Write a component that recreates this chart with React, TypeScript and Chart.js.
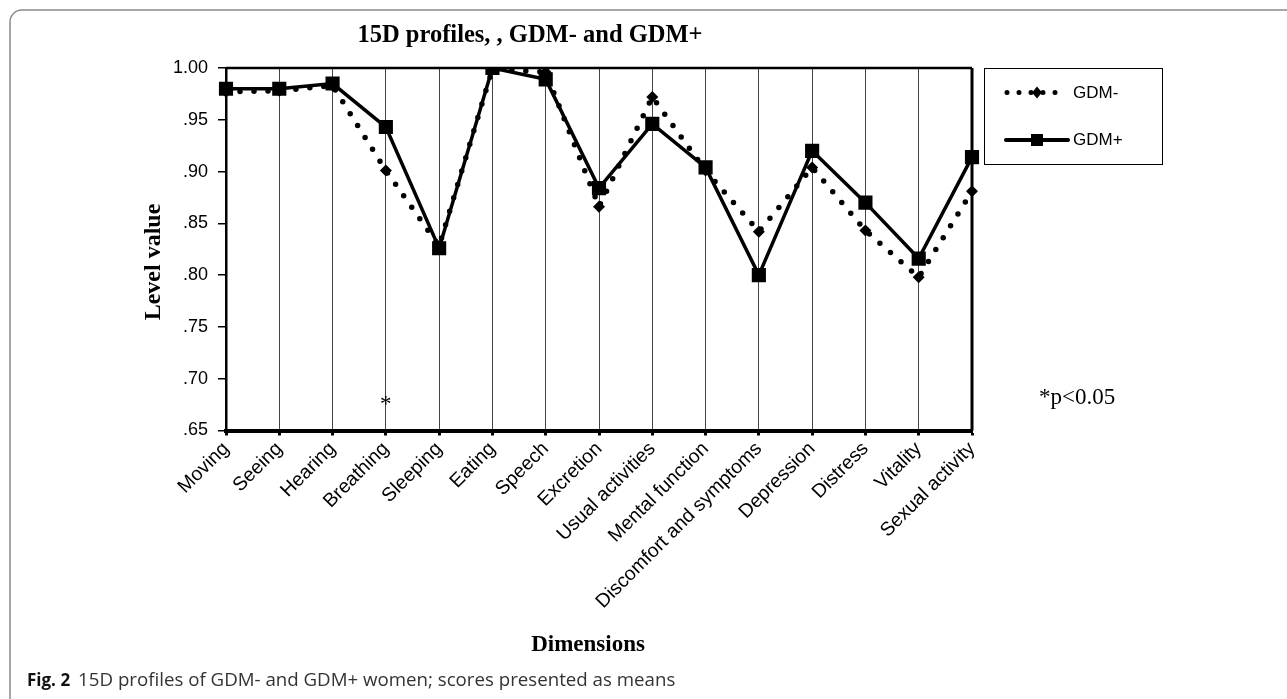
import React, { useEffect, useRef } from "react";
import { Chart, registerables } from "chart.js";

Chart.register(...registerables);

const categories = [
  "Moving", "Seeing", "Hearing", "Breathing", "Sleeping", "Eating", "Speech",
  "Excretion", "Usual activities", "Mental function", "Discomfort and symptoms",
  "Depression", "Distress", "Vitality", "Sexual activity",
];
const gdmMinus = [0.977, 0.978, 0.983, 0.901, 0.828, 0.999, 0.996, 0.866, 0.972, 0.901, 0.842, 0.904, 0.843, 0.798, 0.881];
const gdmPlus = [0.980, 0.980, 0.985, 0.943, 0.826, 1.000, 0.989, 0.884, 0.946, 0.904, 0.800, 0.920, 0.870, 0.816, 0.914];
const seriesNames = ["GDM-", "GDM+"];
const yMin = 0.65;
const yMax = 1.0;
const yStep = 0.05;
const titleText = "15D profiles, , GDM- and GDM+";
const yTitle = "Level value";
const xTitle = "Dimensions";
const sigIndex = 3;
const sigValue = 0.68;
const noteText = "*p<0.05";
const captionBold = "Fig. 2";
const captionText = "15D profiles of GDM- and GDM+ women; scores presented as means";

const W = 1287;
const H = 699;
const AREA_LEFT = 226;
const AREA_RIGHT = 972;
const AREA_TOP = 68;
const AREA_BOTTOM = 430.5;
const XAXIS_H = 200;

const decor = {
  id: "decor",
  beforeDraw(chart: any) {
    const ctx = chart.ctx;
    ctx.save();
    ctx.fillStyle = "#fff";
    ctx.fillRect(0, 0, W, H);
    ctx.restore();
  },
  afterDraw(chart: any) {
    const ctx = chart.ctx;
    const a = chart.chartArea;
    ctx.save();
    // plot frame top and right
    ctx.strokeStyle = "#000";
    ctx.lineWidth = 2.5;
    ctx.beginPath();
    ctx.moveTo(a.left, a.top);
    ctx.lineTo(a.right, a.top);
    ctx.stroke();
    ctx.lineWidth = 3;
    ctx.beginPath();
    ctx.moveTo(a.right, a.top);
    ctx.lineTo(a.right, a.bottom);
    ctx.stroke();

    // title
    ctx.fillStyle = "#000";
    ctx.font = "bold 24.5px 'Liberation Serif'";
    ctx.textAlign = "center";
    ctx.textBaseline = "middle";
    ctx.fillText(titleText, 530, 36);

    // y title
    ctx.save();
    ctx.translate(154, 262);
    ctx.rotate(-Math.PI / 2);
    ctx.font = "bold 24px 'Liberation Serif'";
    ctx.fillText(yTitle, 0, 0);
    ctx.restore();

    // x title
    ctx.font = "bold 23px 'Liberation Serif'";
    ctx.fillText(xTitle, 588, 645);

    // significance star
    const xs = chart.scales.x;
    const ys = chart.scales.y;
    ctx.font = "23px 'Liberation Serif'";
    ctx.fillText("*", xs.getPixelForValue(sigIndex), ys.getPixelForValue(sigValue) + 6);

    // note
    ctx.textAlign = "left";
    ctx.font = "23px 'Liberation Serif'";
    ctx.fillText(noteText, 1039, 398);

    // legend
    ctx.strokeStyle = "#000";
    ctx.lineWidth = 1;
    ctx.strokeRect(984.5, 68.5, 178, 96);
    ctx.font = "17px 'Liberation Sans'";
    ctx.fillStyle = "#000";
    ctx.fillText(seriesNames[0], 1073, 93);
    ctx.fillText(seriesNames[1], 1073, 140);
    // GDM- sample
    ctx.lineCap = "round";
    ctx.lineWidth = 5;
    ctx.setLineDash([0, 12]);
    ctx.beginPath();
    ctx.moveTo(1007, 92.5);
    ctx.lineTo(1057, 92.5);
    ctx.stroke();
    ctx.setLineDash([]);
    ctx.beginPath();
    ctx.moveTo(1037, 86.5);
    ctx.lineTo(1042, 92.5);
    ctx.lineTo(1037, 98.5);
    ctx.lineTo(1032, 92.5);
    ctx.closePath();
    ctx.fill();
    // GDM+ sample
    ctx.lineWidth = 4;
    ctx.beginPath();
    ctx.moveTo(1006, 140);
    ctx.lineTo(1068, 140);
    ctx.stroke();
    ctx.fillRect(1031, 134, 12, 12);

    // caption
    ctx.font = "bold 17px 'Open Sans'";
    ctx.fillStyle = "#111";
    ctx.textBaseline = "middle";
    ctx.fillText(captionBold, 27, 681);
    const bw = ctx.measureText(captionBold).width;
    ctx.font = "18.7px 'Open Sans'";
    ctx.fillStyle = "#333";
    ctx.fillText(captionText, 27 + bw + 8, 681);

    // outer rounded frame
    ctx.strokeStyle = "#8a8a8a";
    ctx.lineWidth = 1.5;
    ctx.beginPath();
    ctx.roundRect(10, 10, W + 20, H + 20, 12);
    ctx.stroke();
    ctx.restore();
  },
};

export default function App() {
  const ref = useRef<HTMLCanvasElement>(null);
  useEffect(() => {
    document.body.style.margin = "0";
    const chart = new Chart(ref.current!, {
      type: "line",
      data: {
        labels: categories,
        datasets: [
          {
            label: seriesNames[0],
            data: gdmMinus,
            borderColor: "#000",
            backgroundColor: "#000",
            borderWidth: 5.5,
            borderDash: [0, 14],
            borderCapStyle: "round",
            pointStyle: "rectRot",
            pointRadius: 6,
            pointBorderWidth: 0,
            pointBackgroundColor: "#000",
            tension: 0,
            order: 1,
          },
          {
            label: seriesNames[1],
            data: gdmPlus,
            borderColor: "#000",
            backgroundColor: "#000",
            borderWidth: 3.5,
            pointStyle: "rect",
            pointRadius: 10,
            pointBorderWidth: 0,
            pointBackgroundColor: "#000",
            tension: 0,
            order: 0,
          },
        ],
      },
      options: {
        responsive: false,
        animation: false,
        devicePixelRatio: 1,
        layout: {
          padding: {
            left: 0,
            top: AREA_TOP,
            right: W - AREA_RIGHT,
            bottom: H - AREA_BOTTOM - XAXIS_H,
          },
        },
        plugins: {
          legend: { display: false },
          title: { display: false },
          tooltip: { enabled: false },
        },
        scales: {
          x: {
            offset: false,
            grid: {
              display: true,
              drawOnChartArea: true,
              color: "#444",
              lineWidth: 1,
              tickColor: "#000",
              tickWidth: 3,
              tickLength: 5,
            },
            border: { display: true, color: "#000", width: 4 },
            ticks: {
              color: "#000",
              font: { family: "'Liberation Sans'", size: 19.5 },
              minRotation: 45,
              maxRotation: 45,
              autoSkip: false,
              padding: 2,
            },
            afterFit(scale: any) {
              scale.height = XAXIS_H;
            },
          },
          y: {
            min: yMin,
            max: yMax,
            grid: {
              display: true,
              drawOnChartArea: false,
              color: "#000",
              tickLength: 8,
              lineWidth: 1.5,
            },
            border: { display: true, color: "#000", width: 2.5 },
            ticks: {
              stepSize: yStep,
              color: "#000",
              padding: 10,
              font: { family: "'Liberation Sans'", size: 18 },
              callback: (v: any) => Number(v).toFixed(2).replace(/^0/, ""),
            },
            afterFit(scale: any) {
              scale.width = AREA_LEFT;
            },
          },
        },
      },
      plugins: [decor],
    });
    return () => chart.destroy();
  }, []);
  return (
    <div style={{ position: "fixed", left: 0, top: 0, width: W, height: H }}>
      <canvas ref={ref} width={W} height={H} style={{ width: W, height: H, display: "block" }} />
    </div>
  );
}
